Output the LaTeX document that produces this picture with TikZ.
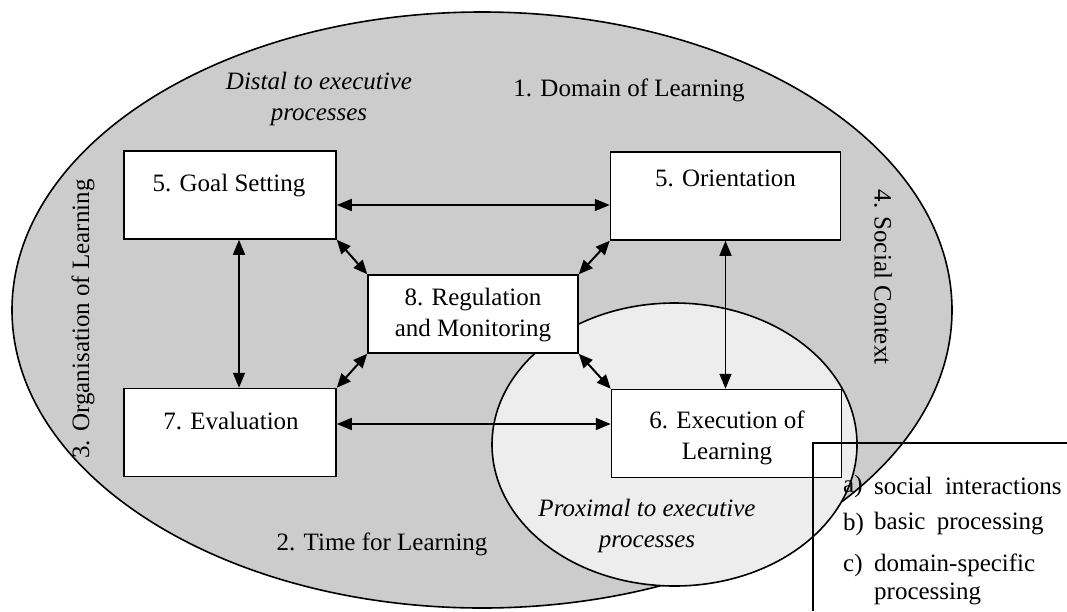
\documentclass[tikz,border=0pt]{standalone}
\usepackage{fontspec}
\setmainfont{Liberation Serif}
\usetikzlibrary{arrows.meta}
\tikzset{
  every node/.style={font=\fontsize{25}{31}\selectfont},
  box/.style={draw, line width=1.5pt, fill=white, inner sep=0pt},
  gsbox/.style={box, minimum width=212pt, minimum height=88pt},
  orbox/.style={box, minimum width=230pt, minimum height=88pt},
  regbox/.style={box, minimum width=210pt, minimum height=78pt},
  lab/.style={inner sep=0pt, align=center},
  itlab/.style={lab, font=\fontsize{25}{31}\selectfont\itshape},
  leg/.style={inner sep=0pt, anchor=west},
  link/.style={line width=1.6pt, {Triangle[length=15pt,width=12pt]}-{Triangle[length=15pt,width=12pt]}},
  shortlink/.style={line width=2pt, {Triangle[length=14pt,width=12pt]}-{Triangle[length=14pt,width=12pt]}},
  rim/.style={line width=1.6pt}
}
\begin{document}
\begin{tikzpicture}[x=1pt,y=-1pt]
\useasboundingbox (0,0) rectangle (1067,611);
% outer and inner ellipses
\fill[black!20] (482,310) ellipse [x radius=470, y radius=298];
\draw[rim] (482,310) ellipse [x radius=470, y radius=298];
\fill[black!7] (674.5,444.5) ellipse [x radius=182.5, y radius=141.5];
\draw[rim] (674.5,444.5) ellipse [x radius=182.5, y radius=141.5];
% boxes
\node[gsbox] (goal) at (230,195) {};
\node[orbox] (orient) at (725.5,196) {};
\node[regbox] (reg) at (473,314) {};
\node[gsbox] (eval) at (230,432.5) {};
\node[orbox] (exec) at (726.5,433.5) {};
% box texts
\node[lab] (goalt) at (229,186) {5. Goal Setting};
\node[lab] (orientt) at (725.5,178) {5. Orientation};
\node[lab] (regt) at (473,315) {8. Regulation\\and Monitoring};
\node[lab] (evalt) at (231,420.5) {7. Evaluation};
\node[lab] (exect) at (727,437.5) {6. Execution of\\Learning};
% connectors
\draw[link] ([yshift=-10pt]goal.east) -- ([yshift=-9pt]orient.west);
\draw[link] ([yshift=8.5pt]eval.east) -- ([yshift=9.5pt]exec.west);
\draw[link] ([xshift=9pt]goal.south) -- ([xshift=9pt]eval.north);
\draw[link] (orient.south) -- ([xshift=-1pt]exec.north);
\draw[shortlink] (goal.south east) -- (reg.north west);
\draw[shortlink] (orient.south west) -- (reg.north east);
\draw[shortlink] (eval.north east) -- (reg.south west);
\draw[shortlink] (exec.north west) -- (reg.south east);
% outer labels
\node[itlab] (distal) at (319,98.5) {Distal to executive\\processes};
\node[lab] (domain) at (629,90) {1. Domain of Learning};
\node[lab, rotate=-90] (social) at (883,277) {4. Social Context};
\node[lab, rotate=90] (organ) at (83,319) {3. Organisation of Learning};
\node[lab] (time) at (382,544) {2. Time for Learning};
\node[itlab] (proximal) at (647,525.5) {Proximal to executive\\processes};
% legend
\coordinate (lgb) at (813,611);
\coordinate (lgc) at (813,443);
\coordinate (lgr) at (1067,443);
\draw[line width=1.2pt] (lgb) -- (lgc) -- (lgr);
\node[leg] (la) at (843,486) {a)};
\node[leg] (lat) at (874,486) {social\hspace{0.5em}interactions};
\node[leg] (lb) at (843,524) {b)};
\node[leg] (lbt) at (874,524) {basic\hspace{0.45em}processing};
\node[leg] (lc) at (843,565) {c)};
\node[leg] (lct) at (874,565) {domain-specific};
\node[leg] (lct2) at (874,594) {processing};
\end{tikzpicture}
\end{document}
